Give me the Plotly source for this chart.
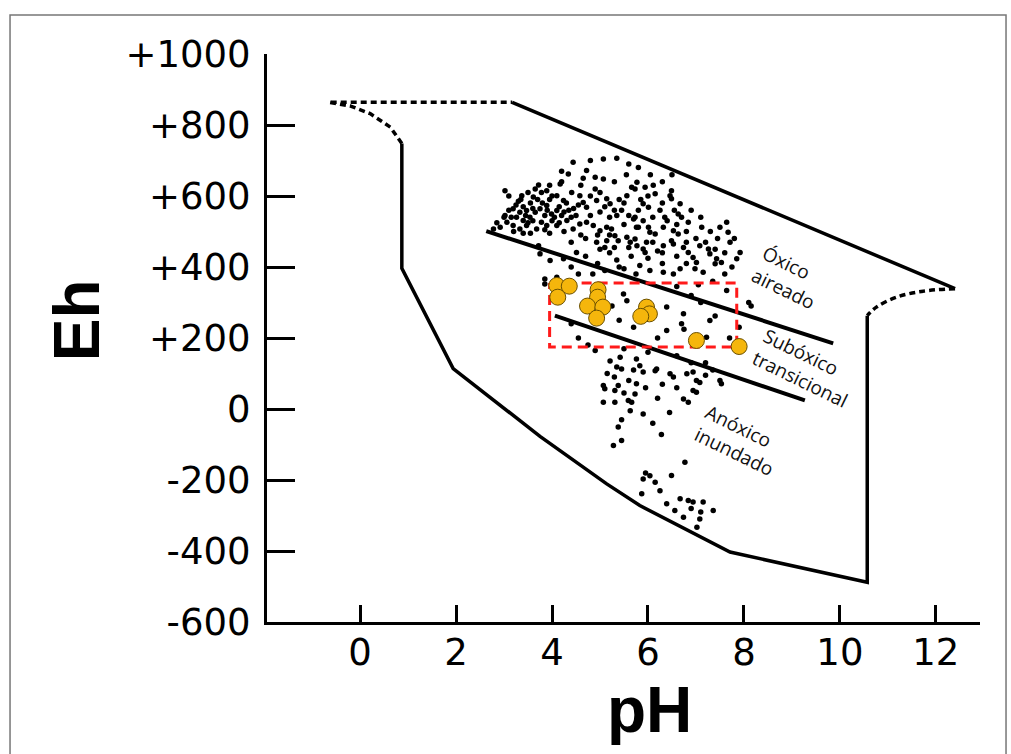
import plotly.graph_objects as go

# ---------------- data ----------------
# scattered soil measurements (pH, Eh in mV)
dots_ph = [4.44,5.07,5.35,4.72,4.90,5.07,4.34,4.17,3.72,3.02,3.37,3.61,3.78,3.89,4.10,4.24,4.41,4.58,4.65,4.72,
           4.93,5.14,5.21,5.56,5.66,5.35,5.70,5.76,3.19,3.33,3.47,3.26,3.40,3.54,3.65,3.75,3.89,3.99,4.10,4.20,
           4.31,4.10,3.89,3.78,3.68,3.47,3.33,3.19,3.06,2.92,2.78,4.44,4.58,4.72,4.86,5.00,5.14,5.24,5.31,5.38,
           5.56,5.63,5.14,4.93,3.72,3.75,3.96,4.24,4.51,3.55,3.30,3.95,4.00,3.60,3.85,4.15,3.40,4.35,4.50,4.25,
           3.95,3.55,4.60,4.80,5.00,5.20,5.45,4.90,5.30,5.55,5.77,5.73,5.94,6.11,6.15,5.90,6.01,6.49,6.46,6.49,
           6.67,6.63,6.84,7.12,7.50,7.64,7.67,5.73,5.80,6.01,6.04,6.15,6.32,6.53,6.49,6.63,5.97,5.73,5.77,5.90,
           5.94,6.32,6.53,6.74,6.84,6.94,7.01,7.08,7.26,7.29,7.43,7.71,7.92,7.85,7.40,7.53,5.83,6.04,6.32,6.53,
           6.67,6.98,7.15,6.10,6.25,6.40,6.80,7.00,6.20,6.00,4.40,4.70,4.95,5.20,5.35,5.50,5.65,4.85,3.85,3.85,
           4.10,5.10,5.60,5.75,5.49,5.56,6.39,6.74,6.70,6.75,7.29,7.40,7.22,6.39,7.64,8.10,8.15,7.10,6.90,5.25,
           5.40,4.40,5.70,6.20,7.70,7.90,7.05,6.60,5.21,5.42,5.35,5.45,5.76,5.83,5.90,6.15,6.18,6.46,6.53,6.81,
           6.94,7.01,7.08,7.50,7.53,6.94,7.01,6.74,6.84,5.07,5.10,5.38,5.31,5.76,5.73,5.07,5.31,5.59,5.66,5.63,
           5.90,5.38,5.45,5.28,6.28,6.77,5.90,6.04,6.15,6.49,5.87,6.39,6.67,6.84,6.94,7.15,6.56,6.74,7.08,7.36,
           7.02,4.90,4.75,5.50,6.00,6.60,7.20,4.55,3.02,3.10,
           3.10,3.15,3.25,3.35,3.45,3.50,3.60,3.70,3.80,3.85,3.90,4.05,4.15,4.25,4.30,4.40,4.45,4.55,3.20,3.40,
           3.00,2.85,3.65,3.95,4.20,4.60,4.80,5.00,5.10,5.30,5.40,5.50,5.60,5.80,5.85,6.00,6.30,6.35,6.55,6.70,
           6.90,7.10,7.30,7.45,7.20,6.60,5.90,5.50,5.20,4.95,4.70,4.40,5.00,5.30,6.10,6.30,6.60,6.80,7.40,7.60,
           7.80,7.75,7.60,7.35,6.30,6.80,5.40,5.10,4.55,6.50,6.05,5.80,5.60,6.30,4.65,4.20,4.00,3.50,4.80,
           5.15,5.60,5.95,6.30,6.60,6.20,7.20,7.35,6.90,5.70,5.30,5.50,6.45,5.45,6.10,7.10,6.90,6.25,5.95]
dots_eh = [695,704,706,672,653,648,662,634,631,615,601,597,610,615,601,587,610,601,582,568,
           587,592,578,601,625,545,535,512,564,554,559,540,531,540,554,564,573,549,559,545,
           531,517,517,526,507,517,507,517,526,512,507,507,521,526,517,502,512,507,488,474,
           484,470,474,470,460,437,418,423,441,580,585,590,530,530,545,570,570,560,545,500,
           495,495,490,545,555,540,560,620,640,660,639,620,625,630,606,578,568,615,601,592,
           578,549,526,512,512,526,498,540,512,512,498,493,512,502,474,493,470,479,460,451,
           441,460,465,455,441,427,413,460,451,437,423,470,441,423,409,413,404,390,385,380,
           395,395,385,540,560,530,500,480,445,425,400,430,410,440,420,395,430,380,366,352,
           371,455,455,380,324,305,287,268,240,225,249,262,202,221,334,300,290,300,320,290,
           250,240,230,200,200,230,350,345,135,146,118,113,141,122,104,108,113,99,90,99,
           104,80,75,80,71,52,47,28,19,66,57,66,52,71,42,19,19,24,19,-5,
           -14,-51,-89,-103,-72,-150,-197,-188,-206,-187,-239,-267,-253,-258,-262,-262,-286,-305,-310,-286,
           -333,165,180,170,160,150,130,200,545,600,
           560,540,575,590,545,525,565,590,580,505,560,540,525,555,580,540,565,575,500,495,
           540,525,620,630,640,630,600,610,570,560,590,580,545,560,590,600,580,540,560,540,
           560,540,500,480,470,520,530,520,490,490,480,470,450,455,470,440,430,470,450,440,
           480,400,380,360,410,410,400,390,380,660,660,680,690,640,650,670,600,610,700,
           100,80,60,70,60,30,95,110,130,110,90,45,-10,-30,-40,-290,-280,-230,-180]

# studied samples (orange)
samp_ph = [4.10, 4.36, 4.12, 4.96, 4.95, 4.74, 5.06, 4.93, 5.97, 6.03, 5.85, 7.01, 7.90]
samp_eh = [348, 346, 315, 336, 315, 290, 287, 256, 287, 268, 261, 193, 176]

# envelope of natural environments
env_top_ph = [3.17, 12.40]
env_top_eh = [864, 339]
env_rdash_ph = [12.40, 11.74, 11.18, 10.76, 10.57]
env_rdash_eh = [339, 332, 315, 287, 263]
env_low_ph = [10.57, 10.57, 7.71, 5.83, 5.14, 3.75, 1.94, 0.87, 0.87]
env_low_eh = [263, -488, -403, -272, -211, -77, 114, 396, 748]
env_ldash_ph = [0.87, 0.63, 0.21, -0.21, -0.66, 3.17]
env_ldash_eh = [748, 794, 832, 854, 864, 864]

# zone boundaries
upper_ph = [2.63, 9.86]
upper_eh = [501, 185]
lower_ph = [4.06, 9.27]
lower_eh = [263, 24]

# red dashed box
box_ph = [3.95, 7.85, 7.85, 3.95, 3.95]
box_eh = [355, 355, 175, 175, 355]

# labels
zones = ["Óxico<br>aireado", "Subóxico<br>transicional", "Anóxico<br>inundado"]
zone_ph = [8.92, 9.29, 7.90]
zone_eh = [370, 114, -89]

x_ticks = [0, 2, 4, 6, 8, 10, 12]
y_ticks = [-600, -400, -200, 0, 200, 400, 600, 800, 1000]
y_ticktext = ["-600", "-400", "-200", "0", "+200", "+400", "+600", "+800", "+1000"]

# ---------------- figure ----------------
fig = go.Figure()
solid = dict(color="black", width=3.5)
dashed = dict(color="black", width=3.5, dash="6px,4px")

fig.add_trace(go.Scatter(x=env_top_ph, y=env_top_eh, mode="lines", line=solid))
fig.add_trace(go.Scatter(x=env_rdash_ph, y=env_rdash_eh, mode="lines", line=dashed, line_shape="spline"))
fig.add_trace(go.Scatter(x=env_low_ph, y=env_low_eh, mode="lines", line=solid))
fig.add_trace(go.Scatter(x=env_ldash_ph, y=env_ldash_eh, mode="lines", line=dashed))
fig.add_trace(go.Scatter(x=upper_ph, y=upper_eh, mode="lines", line=dict(color="black", width=4)))
fig.add_trace(go.Scatter(x=lower_ph, y=lower_eh, mode="lines", line=dict(color="black", width=4)))
fig.add_trace(go.Scatter(x=dots_ph, y=dots_eh, mode="markers",
                         marker=dict(color="black", size=5.5, line=dict(width=0))))
fig.add_trace(go.Scatter(x=box_ph, y=box_eh, mode="lines",
                         line=dict(color="#ff1a1a", width=3, dash="10px,6px")))
fig.add_trace(go.Scatter(x=samp_ph, y=samp_eh, mode="markers",
                         marker=dict(color="#f5b60c", size=16, line=dict(color="#6b5000", width=1))))

for t, px, ey in zip(zones, zone_ph, zone_eh):
    fig.add_annotation(x=px, y=ey, xref="x", yref="y", text=t, showarrow=False,
                       textangle=26, align="left", xanchor="center", yanchor="middle",
                       font=dict(family="Open Sans", size=19, color="#111"))

axis_font = dict(family="DejaVu Sans", size=37, color="black")
fig.update_xaxes(range=[-1.94, 12.92], tickvals=x_ticks, ticks="inside", ticklen=17, tickwidth=3,
                 tickcolor="black", showline=True, linewidth=3, linecolor="black",
                 showgrid=False, zeroline=False, tickfont=axis_font, ticklabelstandoff=-4)
fig.update_yaxes(range=[-600, 1000], tickvals=y_ticks, ticktext=y_ticktext, ticks="inside",
                 ticklen=28, tickwidth=3, tickcolor="black", showline=True, linewidth=3,
                 linecolor="black", showgrid=False, zeroline=False, tickfont=axis_font,
                 ticklabelstandoff=6)

fig.add_annotation(x=-0.2665, y=0.5314, xref="paper", yref="paper", text="<b>Eh</b>",
                   textangle=-90, showarrow=False, xanchor="center", yanchor="middle",
                   font=dict(family="Liberation Sans", size=64, color="black"))
fig.add_annotation(x=0.537, y=-0.155, xref="paper", yref="paper", text="<b>pH</b>",
                   showarrow=False, xanchor="center", yanchor="middle",
                   font=dict(family="Liberation Sans", size=64, color="black"))

fig.add_shape(type="rect", xref="paper", yref="paper", x0=-0.3604, x1=1.0365, y0=-0.3, y1=1.0687,
              line=dict(color="#777", width=1.5))

fig.update_layout(width=1011, height=754, margin=dict(l=267, r=31, t=54, b=132),
                  plot_bgcolor="white", paper_bgcolor="white", showlegend=False)

fig.write_html("out.html")
